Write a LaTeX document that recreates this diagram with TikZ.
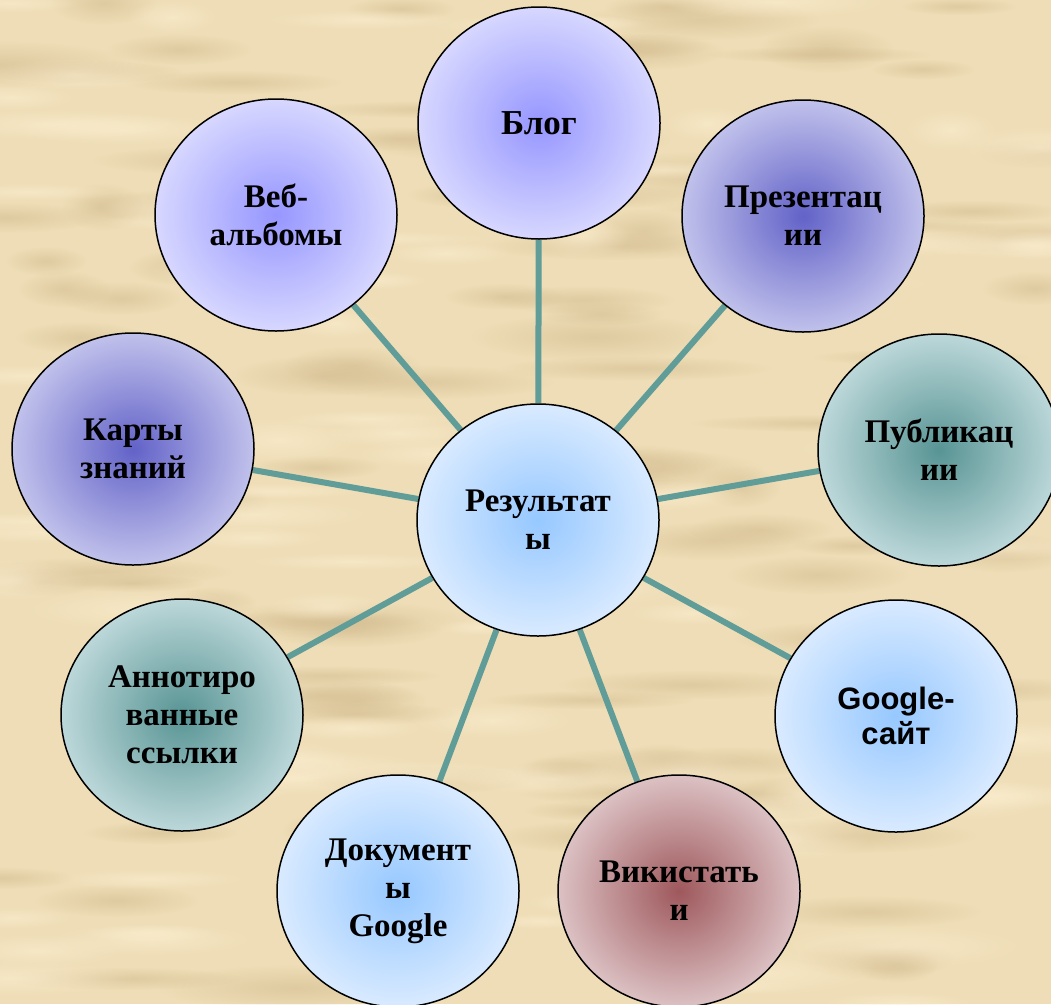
\documentclass[tikz,border=0pt]{standalone}
\usepackage{fontspec}
\setmainfont{Liberation Serif}
\newfontfamily\arialf{Liberation Sans}
\usetikzlibrary{shapes.geometric,fadings}
\definecolor{paperbase}{RGB}{238,221,182}
\definecolor{paperdark}{RGB}{205,180,135}
\definecolor{paperlight}{RGB}{252,238,208}
\definecolor{linkc}{RGB}{96,156,152}
\definecolor{lavc}{RGB}{150,150,255}\definecolor{lave}{RGB}{228,228,255}
\definecolor{purc}{RGB}{98,98,200}\definecolor{pure}{RGB}{212,212,243}
\definecolor{teac}{RGB}{88,148,148}\definecolor{teae}{RGB}{208,229,231}
\definecolor{bluc}{RGB}{150,200,255}\definecolor{blue2}{RGB}{230,241,255}
\definecolor{marc}{RGB}{158,88,92}\definecolor{mare}{RGB}{232,214,216}
\pgfdeclareradialshading{lavshade}{\pgfpoint{0bp}{0bp}}{color(0bp)=(lavc);color(30bp)=(lave);color(100bp)=(lave)}
\pgfdeclareradialshading{purshade}{\pgfpoint{0bp}{0bp}}{color(0bp)=(purc);color(30bp)=(pure);color(100bp)=(pure)}
\pgfdeclareradialshading{teashade}{\pgfpoint{0bp}{0bp}}{color(0bp)=(teac);color(30bp)=(teae);color(100bp)=(teae)}
\pgfdeclareradialshading{blushade}{\pgfpoint{0bp}{0bp}}{color(0bp)=(bluc);color(30bp)=(blue2);color(100bp)=(blue2)}
\pgfdeclareradialshading{marshade}{\pgfpoint{0bp}{0bp}}{color(0bp)=(marc);color(30bp)=(mare);color(100bp)=(mare)}
\tikzfading[name=softspot, inner color=transparent!0, outer color=transparent!100]
\pgfdeclarelayer{paper}
\pgfdeclarelayer{links}
\pgfsetlayers{paper,links,main}
\tikzset{
  bubble/.style={ellipse, draw=black, line width=1.5pt, minimum width=242, minimum height=232,
    inner sep=0pt, align=center, font=\bfseries\fontsize{33}{38}\selectfont, text=black},
  lav/.style={bubble, shading=lavshade},
  pur/.style={bubble, shading=purshade},
  tea/.style={bubble, shading=teashade},
  blu/.style={bubble, shading=blushade},
  mar/.style={bubble, shading=marshade},
  link/.style={draw=linkc, line width=6pt},
}
\begin{document}
\begin{tikzpicture}[x=1pt,y=-1pt]
\useasboundingbox (0,0) rectangle (1051,1004);
\begin{pgfonlayer}{paper}
\fill[paperbase] (0,0) rectangle (1051,1004);
\pgfmathsetseed{11}
\foreach \i in {1,...,110}{
  \pgfmathsetmacro{\px}{rnd*1051}
  \pgfmathsetmacro{\py}{rnd*1004}
  \pgfmathsetmacro{\rx}{40+rnd*100}
  \pgfmathsetmacro{\ry}{8+rnd*16}
  \fill[paperdark, opacity=0.45, path fading=softspot] (\px,\py) ellipse [x radius=\rx, y radius=\ry];
}
\foreach \i in {1,...,90}{
  \pgfmathsetmacro{\px}{rnd*1051}
  \pgfmathsetmacro{\py}{rnd*1004}
  \pgfmathsetmacro{\rx}{40+rnd*100}
  \pgfmathsetmacro{\ry}{8+rnd*16}
  \fill[paperlight, opacity=0.6, path fading=softspot] (\px,\py) ellipse [x radius=\rx, y radius=\ry];
}
\end{pgfonlayer}

\node[blu] (res) at (538,520) {Результат\\ы};
\node[lav, font=\bfseries\fontsize{35}{40}\selectfont] (blog) at (539,123) {Блог};
\node[pur] (pres) at (803,216) {Презентац\\ии};
\node[tea] (pub) at (939,450) {Публикац\\ии};
\node[blu, font=\arialf\bfseries\fontsize{31}{35}\selectfont] (gsite) at (896,716) {Google-\\сайт};
\node[mar] (wiki) at (679,891) {Викистать\\и};
\node[blu] (docs) at (398,891) {Документ\\ы\\Google};
\node[tea] (ann) at (182,715) {Аннотиро\\ванные\\ссылки};
\node[pur] (maps) at (133,449) {Карты\\знаний};
\node[lav] (web) at (276,215) {Веб-\\альбомы};

\begin{pgfonlayer}{links}
\foreach \t in {blog,pres,pub,gsite,wiki,docs,ann,maps,web}{
  \draw[link] (res) -- (\t);
}
\end{pgfonlayer}
\end{tikzpicture}
\end{document}
